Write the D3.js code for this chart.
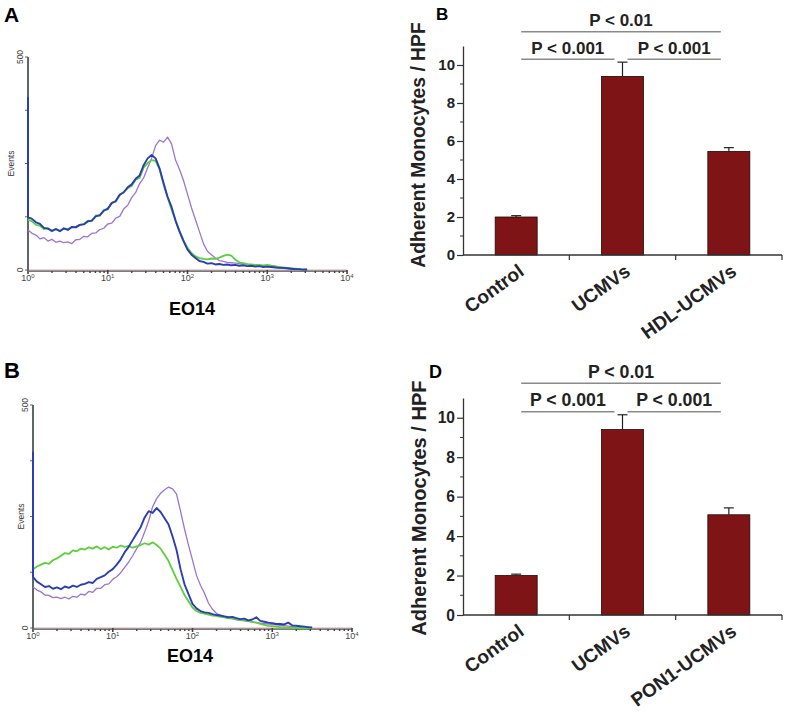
<!DOCTYPE html>
<html>
<head>
<meta charset="utf-8">
<script src="https://cdn.jsdelivr.net/npm/d3@7"></script>
<style>
  body { margin: 0; background: #fff; }
  svg { display: block; }
  text { font-family: Arial, "Liberation Sans", Helvetica, sans-serif; }
</style>
</head>
<body>
<div id="chart"></div>
<script>
// flow cytometry channels (log10 of EO14 fluorescence), first channel doubled for the spike
var channels = [0, 0, 0.05, 0.1, 0.15, 0.2, 0.25, 0.3, 0.35, 0.4, 0.45, 0.5,
  0.55, 0.6, 0.65, 0.7, 0.75, 0.8, 0.85, 0.9, 0.95, 1,
  1.05, 1.1, 1.15, 1.2, 1.25, 1.3, 1.35, 1.4, 1.45, 1.5,
  1.55, 1.6, 1.65, 1.7, 1.75, 1.8, 1.85, 1.9, 1.95, 2,
  2.05, 2.1, 2.15, 2.2, 2.25, 2.3, 2.35, 2.4, 2.45, 2.5,
  2.55, 2.6, 2.65, 2.7, 2.75, 2.8, 2.85, 2.9, 2.95, 3,
  3.05, 3.1, 3.15, 3.2, 3.25, 3.3, 3.35, 3.4, 3.45, 3.5];

// panel A events
var histA_purple = [94, 94, 86, 82, 73, 76, 68, 72, 65, 68, 64, 66,
  62, 71, 72, 79, 78, 86, 87, 95, 98, 108,
  110, 122, 126, 143, 152, 170, 182, 203, 216, 240,
  262, 292, 305, 300, 312, 296, 258, 236, 210, 178,
  146, 118, 90, 62, 44, 36, 28, 22, 20, 18,
  17, 16, 15, 14, 13, 12, 11, 10, 9, 8,
  7, 6, 5, 4, 3, 2, 2, 1, 1, 1];
var histA_green = [118, 118, 114, 106, 104, 96, 98, 91, 97, 92, 97, 96,
  101, 102, 106, 108, 116, 115, 128, 127, 141, 142,
  158, 160, 175, 184, 192, 197, 212, 216, 240, 251,
  258, 256, 236, 200, 170, 142, 116, 92, 70, 52,
  40, 32, 28, 26, 25, 27, 26, 29, 33, 36,
  34, 24, 18, 16, 14, 13, 12, 12, 11, 12,
  10, 9, 7, 6, 5, 4, 3, 2, 1, 1];
var histA_blue = [406, 124, 120, 112, 108, 99, 97, 92, 96, 91, 98, 94,
  101, 100, 106, 107, 114, 116, 126, 129, 139, 144,
  157, 162, 177, 182, 194, 201, 214, 222, 246, 262,
  270, 262, 238, 204, 172, 148, 116, 90, 68, 48,
  36, 28, 21, 19, 15, 16, 13, 14, 12, 13,
  11, 12, 10, 11, 9, 10, 8, 9, 7, 8,
  7, 6, 5, 5, 4, 3, 2, 2, 1, 1];

// panel B (lower left) events
var histB_purple = [92, 92, 85, 81, 74, 73, 68, 69, 66, 69, 65, 71,
  69, 76, 74, 82, 80, 89, 89, 97, 99, 109,
  115, 124, 136, 148, 162, 178, 192, 215, 240, 272,
  290, 302, 310, 316, 312, 300, 262, 222, 186, 152,
  118, 96, 78, 56, 42, 33, 28, 24, 22, 21,
  18, 17, 16, 15, 13, 12, 11, 10, 9, 8,
  7, 6, 5, 4, 3, 2, 2, 1, 1, 1];
var histB_green = [132, 132, 138, 142, 146, 144, 152, 156, 162, 168, 166, 174,
  172, 178, 176, 181, 178, 183, 177, 181, 176, 182,
  180, 185, 182, 184, 180, 183, 186, 190, 187, 192,
  186, 178, 164, 150, 130, 110, 92, 74, 60, 46,
  38, 34, 32, 30, 28, 27, 25, 24, 22, 21,
  20, 18, 17, 16, 14, 12, 9, 7, 5, 4,
  3, 2, 1, 1, 0, 0, 0, 0, 0, 0];
var histB_blue = [395, 114, 104, 98, 92, 94, 88, 91, 87, 93, 90, 95,
  92, 97, 99, 103, 101, 110, 114, 118, 126, 132,
  142, 154, 170, 182, 197, 212, 226, 248, 262, 258,
  269, 260, 246, 232, 205, 175, 132, 98, 76, 54,
  44, 38, 35, 34, 31, 29, 28, 26, 24, 25,
  22, 20, 21, 17, 19, 24, 16, 14, 12, 11,
  9, 9, 8, 12, 6, 5, 4, 3, 2, 1];

var histTicks = [1, 10, 100, 1000, 10000];
var eventTicks = [0, 125, 250, 375, 500];

// bar charts
var barTicks = [0, 2, 4, 6, 8, 10];
var catsB = ["Control", "UCMVs", "HDL-UCMVs"];
var meanB = [2.0, 9.4, 5.45];
var semB = [0.07, 0.75, 0.2];
var catsD = ["Control", "UCMVs", "PON1-UCMVs"];
var meanD = [2.0, 9.4, 5.08];
var semD = [0.07, 0.75, 0.35];
var compare = [[0, 1, "P < 0.001", 10.3], [1, 2, "P < 0.001", 10.3], [0, 2, "P < 0.01", 11.75]];

var svg = d3.select("#chart").append("svg")
  .attr("width", 787)
  .attr("height", 714);

var colPurple = "#9a74d6", colGreen = "#5ccf3a", colBlue = "#2a3db4";

function drawHist(o) {
  var x = d3.scaleLog().domain([1, 10000]).range([o.left, o.right]);
  var y = d3.scaleLinear().domain([0, 500]).range([o.bottom, o.top]);
  var g = svg.append("g");

  // x axis: pink line over grey, with dotted minor ticks
  g.append("line").attr("x1", o.left).attr("x2", o.right)
    .attr("y1", o.bottom + 1).attr("y2", o.bottom + 1)
    .attr("stroke", "#6f8080").attr("stroke-width", 1.8);
  g.append("line").attr("x1", o.left).attr("x2", o.right)
    .attr("y1", o.bottom).attr("y2", o.bottom)
    .attr("stroke", "#e6a3a8").attr("stroke-width", 1);
  var minor = [];
  histTicks.slice(0, 4).forEach(function (t) {
    for (var k = 2; k < 10; k++) minor.push(t * k);
  });
  g.selectAll(".mn").data(minor).enter().append("rect")
    .attr("x", function (d) { return x(d) - 0.7; })
    .attr("y", o.bottom + 1)
    .attr("width", 1.4).attr("height", 2)
    .attr("fill", "#444");
  g.selectAll(".mj").data(histTicks).enter().append("rect")
    .attr("x", function (d) { return x(d) - 0.8; })
    .attr("y", o.bottom)
    .attr("width", 1.6).attr("height", 4)
    .attr("fill", "#444");

  var lab = g.selectAll(".xl").data(histTicks).enter().append("text")
    .attr("x", function (d) { return x(d); })
    .attr("y", o.bottom + 11)
    .attr("text-anchor", "middle")
    .attr("font-size", 9).attr("fill", "#444");
  lab.append("tspan").text("10");
  lab.append("tspan").attr("dy", -3.5).attr("font-size", 6)
    .text(function (d) { return Math.round(Math.log10(d)); });

  // y axis
  g.append("line").attr("x1", o.left).attr("x2", o.left)
    .attr("y1", o.top).attr("y2", o.bottom + 2)
    .attr("stroke", "#5f6666").attr("stroke-width", 2);
  g.selectAll(".yt").data(eventTicks).enter().append("line")
    .attr("x1", o.left - 3).attr("x2", o.left)
    .attr("y1", function (d) { return y(d); })
    .attr("y2", function (d) { return y(d); })
    .attr("stroke", "#5f6666").attr("stroke-width", 1);
  [[500, "500"], [0, "0"]].forEach(function (t) {
    g.append("text")
      .attr("transform", "translate(" + (o.left - 5) + "," + y(t[0]) + ") rotate(-90)")
      .attr("text-anchor", "middle")
      .attr("font-size", 8.5).attr("fill", "#444")
      .text(t[1]);
  });
  g.append("text")
    .attr("transform", "translate(" + o.eventsX + "," + y(250) + ") rotate(-90)")
    .attr("text-anchor", "middle")
    .attr("font-size", 8.5).attr("fill", "#333")
    .text("Events");

  var line = d3.line()
    .x(function (d, i) { return x(Math.pow(10, channels[i])); })
    .y(function (d) { return y(d); });
  [[o.purple, colPurple, 1.3], [o.green, colGreen, 1.8], [o.blue, colBlue, 1.9]].forEach(function (s) {
    g.append("path").datum(s[0])
      .attr("d", line)
      .attr("fill", "none")
      .attr("stroke", s[1])
      .attr("stroke-width", s[2])
      .attr("stroke-linejoin", "round");
  });

  g.append("text")
    .attr("x", o.labelX).attr("y", o.labelY)
    .attr("text-anchor", "middle")
    .attr("font-size", 18).attr("font-weight", "bold")
    .text("EO14");

  svg.append("text")
    .attr("x", o.panelX).attr("y", o.panelY)
    .attr("font-size", o.panelSize).attr("font-weight", "bold")
    .text(o.panel);
}

function drawBars(o) {
  var s = o.scale;
  var x = d3.scaleBand().domain(o.cats).range([463, 782])
    .paddingInner(0.605).paddingOuter(0.3025);
  var y = d3.scaleLinear().domain([0, 11]).range([o.bottom, o.top]);
  var g = svg.append("g");
  var bw = x.bandwidth();

  // bars
  g.selectAll(".bar").data(o.mean).enter().append("rect")
    .attr("x", function (d, i) { return x(o.cats[i]); })
    .attr("y", function (d) { return y(d); })
    .attr("width", bw)
    .attr("height", function (d) { return y(0) - y(d); })
    .attr("fill", "#7e1416")
    .attr("stroke", "#2a0606").attr("stroke-width", 0.8);

  // error bars (upper only)
  o.mean.forEach(function (m, i) {
    var cx = x(o.cats[i]) + bw / 2;
    g.append("line").attr("x1", cx).attr("x2", cx)
      .attr("y1", y(m)).attr("y2", y(m + o.sem[i]))
      .attr("stroke", "#222").attr("stroke-width", 1.2);
    g.append("line").attr("x1", cx - 5).attr("x2", cx + 5)
      .attr("y1", y(m + o.sem[i])).attr("y2", y(m + o.sem[i]))
      .attr("stroke", "#222").attr("stroke-width", 1.2);
  });

  // y axis
  var ya = g.append("g").attr("transform", "translate(463,0)")
    .call(d3.axisLeft(y).tickValues(barTicks).tickSize(6).tickSizeOuter(0).tickPadding(2));
  ya.select(".domain").attr("stroke", "#333").attr("stroke-width", 1.3);
  ya.selectAll(".tick line").attr("stroke", "#333").attr("stroke-width", 1.2);
  ya.selectAll(".tick text").attr("font-size", 15 * s).attr("font-weight", "bold")
    .attr("fill", "#222").attr("font-family", "Arial, 'Liberation Sans', sans-serif");
  g.selectAll(".minor").data([1, 3, 5, 7, 9]).enter().append("line")
    .attr("x1", 460).attr("x2", 463)
    .attr("y1", function (d) { return y(d); })
    .attr("y2", function (d) { return y(d); })
    .attr("stroke", "#333").attr("stroke-width", 1);

  // x axis with ticks between categories
  g.append("line").attr("x1", 463).attr("x2", 782)
    .attr("y1", y(0)).attr("y2", y(0))
    .attr("stroke", "#333").attr("stroke-width", 1.3);
  g.selectAll(".xt").data(o.cats).enter().append("line")
    .attr("x1", function (d) { return x(d) + bw + x.step() * x.paddingInner() / 2; })
    .attr("x2", function (d) { return x(d) + bw + x.step() * x.paddingInner() / 2; })
    .attr("y1", y(0)).attr("y2", y(0) + 5)
    .attr("stroke", "#333").attr("stroke-width", 1.2);

  g.selectAll(".xl").data(o.cats).enter().append("text")
    .attr("transform", function (d) {
      return "translate(" + (x(d) + bw / 2 + 9) + "," + (y(0) + o.labDy) + ") rotate(-36)";
    })
    .attr("text-anchor", "end")
    .attr("font-size", 19).attr("font-weight", "bold").attr("fill", "#222")
    .text(function (d) { return d; });

  // axis title
  g.append("text")
    .attr("transform", "translate(" + o.titleX + "," + o.titleY + ") rotate(-90)")
    .attr("text-anchor", "middle")
    .attr("font-size", 19.3 * s).attr("font-weight", "bold").attr("fill", "#222")
    .text("Adherent Monocytes / HPF");

  // significance brackets
  compare.forEach(function (c) {
    var x1 = x(o.cats[c[0]]) + bw / 2 + 5;
    var x2 = x(o.cats[c[1]]) + bw / 2 - 8;
    g.append("line").attr("x1", x1).attr("x2", x2)
      .attr("y1", y(c[3])).attr("y2", y(c[3]))
      .attr("stroke", "#8a8a8a").attr("stroke-width", 1.5);
    g.append("text")
      .attr("x", (x1 + x2) / 2).attr("y", y(c[3]) - 5.5)
      .attr("text-anchor", "middle")
      .attr("font-size", 17 * s).attr("font-weight", "bold").attr("fill", "#222")
      .text(c[2]);
  });

  svg.append("text")
    .attr("x", o.panelX).attr("y", o.panelY)
    .attr("font-size", o.panelSize).attr("font-weight", "bold")
    .text(o.panel);
}

drawHist({
  left: 28, right: 347, top: 57, bottom: 270,
  purple: histA_purple, green: histA_green, blue: histA_blue,
  eventsX: 14, labelX: 192, labelY: 315,
  panel: "A", panelX: 4, panelY: 22, panelSize: 21
});
drawHist({
  left: 33, right: 352, top: 405, bottom: 628,
  purple: histB_purple, green: histB_green, blue: histB_blue,
  eventsX: 24, labelX: 190, labelY: 662,
  panel: "B", panelX: 4, panelY: 378, panelSize: 22
});
drawBars({
  cats: catsB, mean: meanB, sem: semB,
  top: 46, bottom: 255, scale: 1,
  labDy: 19, titleX: 425, titleY: 145,
  panel: "B", panelX: 436, panelY: 20, panelSize: 17
});
drawBars({
  cats: catsD, mean: meanD, sem: semD,
  top: 398, bottom: 615, scale: 1.04,
  labDy: 19, titleX: 426, titleY: 508,
  panel: "D", panelX: 429, panelY: 378, panelSize: 18
});
</script>
</body>
</html>
